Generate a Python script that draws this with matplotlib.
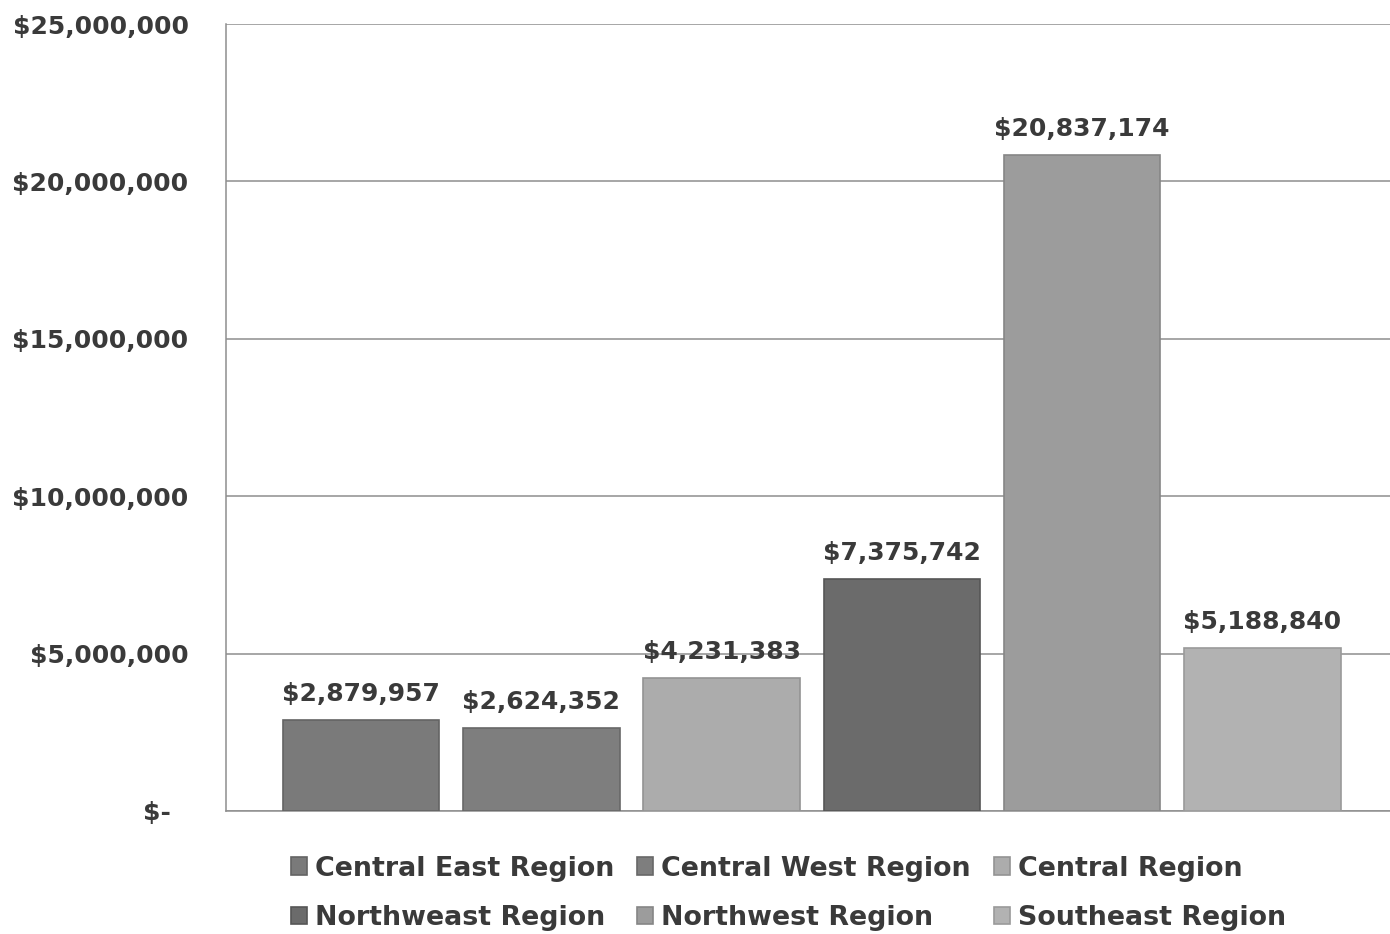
import numpy as np
import matplotlib
matplotlib.use('Agg')
import matplotlib.pyplot as plt
from matplotlib.ticker import FuncFormatter

regions = ['Central East Region', 'Central West Region', 'Central Region',
           'Northweast Region', 'Northwest Region', 'Southeast Region']
amounts = [2879957, 2624352, 4231383, 7375742, 20837174, 5188840]
colors = ['#7a7a7a', '#7e7e7e', '#acacac', '#6b6b6b', '#9c9c9c', '#b2b2b2']
edges = ['#646464', '#686868', '#939393', '#565656', '#868686', '#9a9a9a']

yticks = [0, 5000000, 10000000, 15000000, 20000000, 25000000]

txt = '#3a3a3a'
plt.rcParams['font.family'] = 'DejaVu Sans'
plt.rcParams['font.weight'] = 'bold'

fig = plt.figure(figsize=(13.9, 9.34), dpi=100)
ax = fig.add_axes([0.1626, 0.1317, 0.8374, 0.8426])

x = np.arange(len(regions))
bars = []
for i in range(len(regions)):
    b = ax.bar(x[i], amounts[i], width=0.867, color=colors[i],
               edgecolor=edges[i], linewidth=1.2, label=regions[i], zorder=3)
    bars.append(b)
    ax.annotate('${:,.0f}'.format(amounts[i]), (x[i], amounts[i]),
                xytext=(0, 10), textcoords='offset points',
                ha='center', va='bottom', fontsize=18, fontweight='bold',
                color=txt)

ax.set_xlim(-0.749, 5.707)
ax.set_ylim(0, 25000000)
ax.set_yticks(yticks)

def money(v, pos):
    if v == 0:
        return '$-  '
    return '${:,.0f}'.format(v)

ax.yaxis.set_major_formatter(FuncFormatter(money))
ax.tick_params(axis='y', length=0, pad=27, labelsize=18, labelcolor=txt)
ax.tick_params(axis='x', length=0, labelbottom=False)
for lab in ax.get_yticklabels():
    lab.set_fontweight('bold')

ax.yaxis.grid(True, color='#8e8e8e', linewidth=1.1, zorder=0)
ax.set_axisbelow(True)
for s in ['top', 'right']:
    ax.spines[s].set_visible(False)
ax.spines['left'].set_color('#8e8e8e')
ax.spines['bottom'].set_color('#8e8e8e')
ax.spines['left'].set_linewidth(1.1)
ax.spines['bottom'].set_linewidth(1.1)

# legend fills column-wise, so order handles to read row by row
order = [0, 3, 1, 4, 2, 5]
handles = [bars[i] for i in order]
labels = [regions[i] for i in order]
leg = fig.legend(handles, labels, loc='upper left', bbox_to_anchor=(0.209, 0.084),
                 ncol=3, frameon=False, fontsize=19.4, handlelength=0.6,
                 handleheight=0.6, handletextpad=0.3, columnspacing=0.85,
                 labelspacing=0.88, borderpad=0, borderaxespad=0)
for t in leg.get_texts():
    t.set_color(txt)
    t.set_fontweight('bold')

fig.savefig('out.png', dpi=100, facecolor='white')
